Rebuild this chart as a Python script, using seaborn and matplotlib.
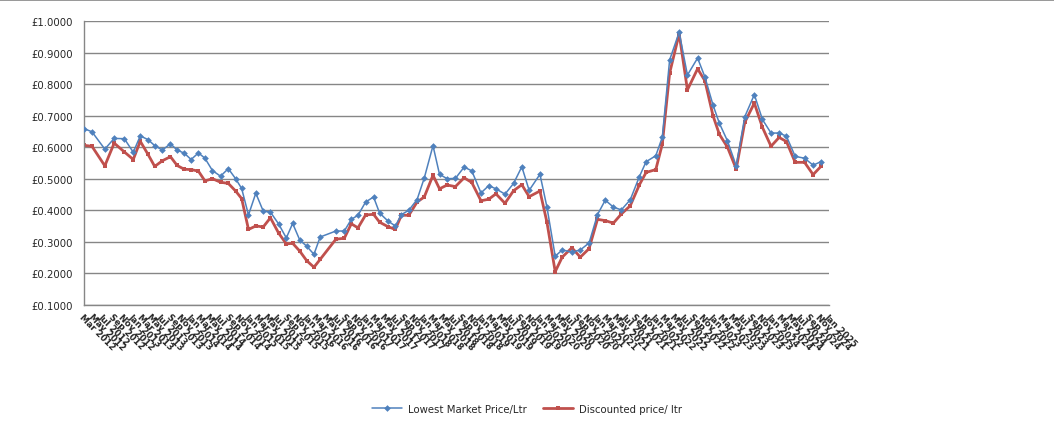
import numpy as np
import pandas as pd
import matplotlib
matplotlib.use("Agg")
import matplotlib.pyplot as plt
import matplotlib.dates as mdates
from matplotlib.ticker import FuncFormatter, FixedLocator
import seaborn as sns

# ── Data ──────────────────────────────────────────────────────────────────────
DATES = [
    "2012-03-01", "2012-04-20", "2012-07-10", "2012-09-07", "2012-11-10", "2013-01-05",
    "2013-02-18", "2013-04-08", "2013-05-20", "2013-07-07", "2013-08-27", "2013-10-08",
    "2013-11-22", "2014-01-04", "2014-02-19", "2014-04-01", "2014-05-18", "2014-07-08",
    "2014-08-26", "2014-10-11", "2014-11-18", "2014-12-31", "2015-02-15", "2015-04-03",
    "2015-05-18", "2015-07-08", "2015-08-26", "2015-10-05", "2015-11-19", "2016-01-01",
    "2016-02-16", "2016-03-26", "2016-07-03", "2016-08-25", "2016-10-08", "2016-11-19",
    "2017-01-06", "2017-02-25", "2017-04-04", "2017-05-26", "2017-07-12", "2017-08-19",
    "2017-10-05", "2017-11-26", "2018-01-10", "2018-03-06", "2018-04-16", "2018-06-03",
    "2018-07-25", "2018-09-18", "2018-11-05", "2019-01-02", "2019-02-20", "2019-04-06",
    "2019-06-02", "2019-07-26", "2019-09-16", "2019-11-01", "2020-01-08", "2020-02-21",
    "2020-04-13", "2020-05-27", "2020-07-27", "2020-09-18", "2020-11-12", "2021-01-04",
    "2021-02-22", "2021-04-14", "2021-06-03", "2021-07-29", "2021-09-25", "2021-11-06",
    "2022-01-06", "2022-02-16", "2022-04-03", "2022-06-02", "2022-07-24", "2022-09-26",
    "2022-11-11", "2023-01-01", "2023-02-10", "2023-04-02", "2023-05-27", "2023-07-20",
    "2023-09-18", "2023-11-08", "2024-01-01", "2024-02-21", "2024-04-07", "2024-06-01",
    "2024-07-30", "2024-09-22", "2024-11-10",
]

LOWEST = [
    0.659, 0.649, 0.594, 0.628, 0.627, 0.584, 0.636, 0.624, 0.605, 0.591, 0.611, 0.591,
    0.581, 0.561, 0.582, 0.565, 0.526, 0.508, 0.532, 0.500, 0.469, 0.385, 0.454, 0.397,
    0.394, 0.357, 0.312, 0.358, 0.305, 0.286, 0.260, 0.315, 0.334, 0.334, 0.371, 0.384,
    0.426, 0.442, 0.391, 0.366, 0.350, 0.386, 0.400, 0.434, 0.502, 0.605, 0.514, 0.500,
    0.501, 0.537, 0.525, 0.455, 0.478, 0.468, 0.451, 0.485, 0.538, 0.463, 0.514, 0.410,
    0.254, 0.274, 0.267, 0.274, 0.296, 0.386, 0.432, 0.410, 0.401, 0.433, 0.507, 0.554,
    0.573, 0.632, 0.877, 0.965, 0.829, 0.883, 0.823, 0.734, 0.676, 0.620, 0.541, 0.697,
    0.767, 0.688, 0.645, 0.645, 0.635, 0.571, 0.565, 0.543, 0.554,
]

DISCOUNTED = [
    0.606, 0.603, 0.541, 0.613, 0.585, 0.561, 0.619, 0.577, 0.539, 0.557, 0.570, 0.542,
    0.530, 0.529, 0.524, 0.493, 0.500, 0.489, 0.485, 0.461, 0.437, 0.339, 0.350, 0.347,
    0.376, 0.328, 0.293, 0.295, 0.270, 0.240, 0.219, 0.244, 0.308, 0.311, 0.357, 0.344,
    0.385, 0.387, 0.362, 0.348, 0.339, 0.384, 0.384, 0.426, 0.442, 0.511, 0.468, 0.480,
    0.475, 0.503, 0.488, 0.430, 0.435, 0.452, 0.422, 0.462, 0.481, 0.443, 0.461, 0.362,
    0.205, 0.251, 0.281, 0.251, 0.278, 0.371, 0.367, 0.359, 0.388, 0.414, 0.481, 0.520,
    0.529, 0.610, 0.835, 0.960, 0.782, 0.849, 0.811, 0.700, 0.641, 0.600, 0.531, 0.679,
    0.740, 0.663, 0.603, 0.631, 0.618, 0.552, 0.552, 0.513, 0.539,
]

SERIES_NAMES = ["Lowest Market Price/Ltr", "Discounted price/ ltr"]
Y_TICKS = [0.1, 0.2, 0.3, 0.4, 0.5, 0.6, 0.7, 0.8, 0.9, 1.0]

# ── Colours ───────────────────────────────────────────────────────────────────
COL_BLUE = "#4F81BD"
COL_RED = "#C0504D"
COL_GRID = "#868686"

df = pd.DataFrame({
    "date": pd.to_datetime(DATES),
    "lowest": LOWEST,
    "discounted": DISCOUNTED,
})

sns.set_style("white")
plt.rcParams["font.family"] = ["DejaVu Sans"]

fig = plt.figure(figsize=(10.54, 4.27), dpi=100)
ax = fig.add_axes([0.0797, 0.284, 0.707, 0.664])

sns.lineplot(data=df, x="date", y="lowest", ax=ax, color=COL_BLUE, lw=1.1,
             marker="D", markersize=3.4, markeredgewidth=0, label=SERIES_NAMES[0],
             zorder=3)
sns.lineplot(data=df, x="date", y="discounted", ax=ax, color=COL_RED, lw=2.0,
             marker="s", markersize=3.4, markeredgewidth=0, label=SERIES_NAMES[1],
             zorder=2)

# ── Axes ──────────────────────────────────────────────────────────────────────
ax.set_xlim(pd.Timestamp("2012-03-01"), pd.Timestamp("2025-01-01"))
ax.set_ylim(0.1, 1.0)
ax.yaxis.set_major_locator(FixedLocator(Y_TICKS))
ax.yaxis.set_major_formatter(FuncFormatter(lambda v, p: f"£{v:.4f}"))
ax.grid(axis="y", color=COL_GRID, lw=1.0)
ax.set_axisbelow(True)

ax.xaxis.set_major_locator(mdates.MonthLocator(bymonth=[1, 3, 5, 7, 9, 11]))
ax.xaxis.set_major_formatter(mdates.DateFormatter("%b %Y"))
ax.tick_params(axis="x", direction="out", length=4, color=COL_GRID, width=1,
               labelsize=6.3, pad=1)
ax.tick_params(axis="y", length=0, labelsize=7.3, pad=8)
for lbl in ax.get_xticklabels():
    lbl.set_rotation(-45)
    lbl.set_ha("left")
    lbl.set_va("top")
    lbl.set_rotation_mode("anchor")
    lbl.set_fontweight("bold")

for side in ["top", "right"]:
    ax.spines[side].set_visible(False)
for side in ["left", "bottom"]:
    ax.spines[side].set_color(COL_GRID)
    ax.spines[side].set_linewidth(1.0)

ax.set_xlabel("")
ax.set_ylabel("")

# ── Legend ────────────────────────────────────────────────────────────────────
handles, labels = ax.get_legend_handles_labels()
ax.get_legend().remove()
fig.legend(handles, labels, loc="center", bbox_to_anchor=(0.5, 0.04), ncol=2,
           frameon=False, fontsize=7.3, handlelength=3.0, handletextpad=0.6,
           columnspacing=1.6)

# chart-area border line along the top
fig.add_artist(plt.Line2D([0, 1], [0.998, 0.998], color=COL_GRID, lw=1.2,
                          transform=fig.transFigure))

fig.savefig("out.png", dpi=100)
